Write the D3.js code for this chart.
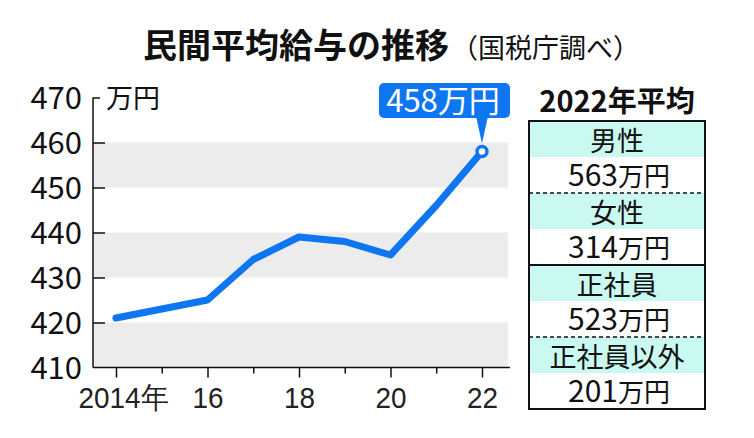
<!DOCTYPE html>
<html><head><meta charset="utf-8">
<script src="https://cdn.jsdelivr.net/npm/d3@7"></script>
<style>
html,body{margin:0;padding:0;background:#fff;}
svg{display:block;font-family:"Noto Sans CJK JP","Noto Sans",sans-serif;}
</style></head>
<body>
<svg id="c" width="754" height="438"></svg>
<script>
const years = [2014, 2015, 2016, 2017, 2018, 2019, 2020, 2021, 2022];
const salaries = [421, 423, 425, 434, 439, 438, 435, 446, 458];
const yTicks = [410, 420, 430, 440, 450, 460, 470];
const xTickLabels = {2014: "2014年", 2016: "16", 2018: "18", 2020: "20", 2022: "22"};
const bands = [[410, 420], [430, 440], [450, 460]];
const boxCategories = ["男性", "女性", "正社員", "正社員以外"];
const boxValues = ["563", "314", "523", "201"];
const titleMain = "民間平均給与の推移";
const titleSub = "（国税庁調べ）";
const unitLabel = "万円";
const calloutLabel = "458万円";
const panelTitle = "2022年平均";

const BLUE = "#0f76f2", CYAN = "#c9f9f0", GREY = "#ececec";
const svg = d3.select("#c");

const x = d3.scaleLinear().domain([2014, 2022]).range([116, 482]);
const y = d3.scaleLinear().domain([410, 470]).range([367.5, 97.5]);
const plotL = 93, plotR = 508;

// title
const t = svg.append("text").attr("x", 143).attr("y", 58);
t.append("tspan").text(titleMain).attr("font-size", 34).attr("font-weight", 700).attr("fill", "#111");
t.append("tspan").text(titleSub).attr("font-size", 27).attr("fill", "#111").attr("dx", 2);

// bands
svg.selectAll("rect.band").data(bands).enter().append("rect")
  .attr("x", plotL).attr("width", plotR - plotL)
  .attr("y", d => y(d[1])).attr("height", d => y(d[0]) - y(d[1]))
  .attr("fill", GREY);

// y axis
const yAxis = d3.axisLeft(y).tickValues(yTicks).tickSizeInner(-12).tickSizeOuter(0).tickPadding(11);
const gy = svg.append("g").attr("transform", `translate(${plotL},0)`).call(yAxis);
gy.select(".domain").remove();
gy.selectAll(".tick line").attr("stroke", "#111").attr("stroke-width", 1.5)
  .attr("x2", d => d === 470 ? 7 : (d === 410 ? 0 : 12));
gy.selectAll(".tick text").attr("font-size", 31).attr("fill", "#111")
  .attr("dy", "0.36em").style("font-family", "'Noto Sans CJK JP',sans-serif");
svg.append("line").attr("x1", plotL).attr("x2", plotL).attr("y1", y(470)).attr("y2", y(410))
  .attr("stroke", "#111").attr("stroke-width", 1.5);
svg.append("text").attr("x", 106).attr("y", 108).attr("font-size", 27).attr("fill", "#111").text(unitLabel);

// x axis
const xAxis = d3.axisBottom(x).tickValues(years).tickSizeOuter(0)
  .tickSize(10).tickPadding(6).tickFormat(d => xTickLabels[d] || "");
const gx = svg.append("g").attr("transform", `translate(0,${y(410)})`).call(xAxis);
gx.select(".domain").remove();
svg.append("line").attr("x1", plotL).attr("x2", 510).attr("y1", y(410)).attr("y2", y(410))
  .attr("stroke", "#111").attr("stroke-width", 1.5);
gx.selectAll(".tick line").attr("stroke", "#111").attr("stroke-width", 1.5)
  .attr("y2", d => xTickLabels[d] ? 10 : 6);
gx.selectAll(".tick text").attr("font-size", 30).attr("fill", "#222").attr("dy", 0).attr("y", 41)
  .attr("text-anchor", d => d === 2014 ? "start" : "middle")
  .attr("transform", d => d === 2014 ? "translate(-38,0) scale(0.93,1)" : "scale(0.93,1)");

// line
const line = d3.line().x((d, i) => x(years[i])).y(d => y(d)).curve(d3.curveLinear);
svg.append("path").datum(salaries).attr("d", line).attr("fill", "none")
  .attr("stroke", BLUE).attr("stroke-width", 7).attr("stroke-linejoin", "round").attr("stroke-linecap", "round");

const lastX = x(years[years.length - 1]), lastY = y(salaries[salaries.length - 1]);
// callout
svg.append("rect").attr("x", 379).attr("y", 83).attr("width", 131).attr("height", 35).attr("rx", 5).attr("fill", BLUE);
svg.append("path").attr("d", `M${lastX - 6},116 L${lastX + 6},116 L${lastX},${lastY - 8} Z`).attr("fill", BLUE);
svg.append("text").attr("x", 443).attr("y", 112).attr("text-anchor", "middle")
  .attr("font-size", 31).attr("fill", "#fff").text(calloutLabel);
svg.append("circle").attr("cx", lastX).attr("cy", lastY).attr("r", 5)
  .attr("fill", "#fff").attr("stroke", BLUE).attr("stroke-width", 3.5);

// right panel
const bx = 529, bw = 176, by = 121, rh = 36;
svg.append("text").attr("x", 617).attr("y", 112).attr("text-anchor", "middle")
  .attr("font-size", 29).attr("font-weight", 700).attr("fill", "#111").text(panelTitle);
boxCategories.forEach((c, i) => {
  const top = by + i * 2 * rh;
  svg.append("rect").attr("x", bx).attr("y", top).attr("width", bw).attr("height", rh).attr("fill", CYAN);
  svg.append("text").attr("x", 617).attr("y", top + 30).attr("text-anchor", "middle")
    .attr("font-size", 27).attr("fill", "#111").text(c);
  const v = svg.append("text").attr("x", 619).attr("y", top + rh + 29).attr("text-anchor", "middle").attr("fill", "#111");
  v.append("tspan").attr("font-size", 30).text(boxValues[i]);
  v.append("tspan").attr("font-size", 26).text("万円");
  if (i > 0) {
    svg.append("line").attr("x1", bx).attr("x2", bx + bw).attr("y1", top).attr("y2", top)
      .attr("stroke", "#111").attr("stroke-width", i === 2 ? 2 : 1.3)
      .attr("stroke-dasharray", i === 2 ? null : "4,3");
  }
});
svg.append("rect").attr("x", bx).attr("y", by).attr("width", bw).attr("height", rh * 8)
  .attr("fill", "none").attr("stroke", "#111").attr("stroke-width", 2);
</script>
</body></html>
